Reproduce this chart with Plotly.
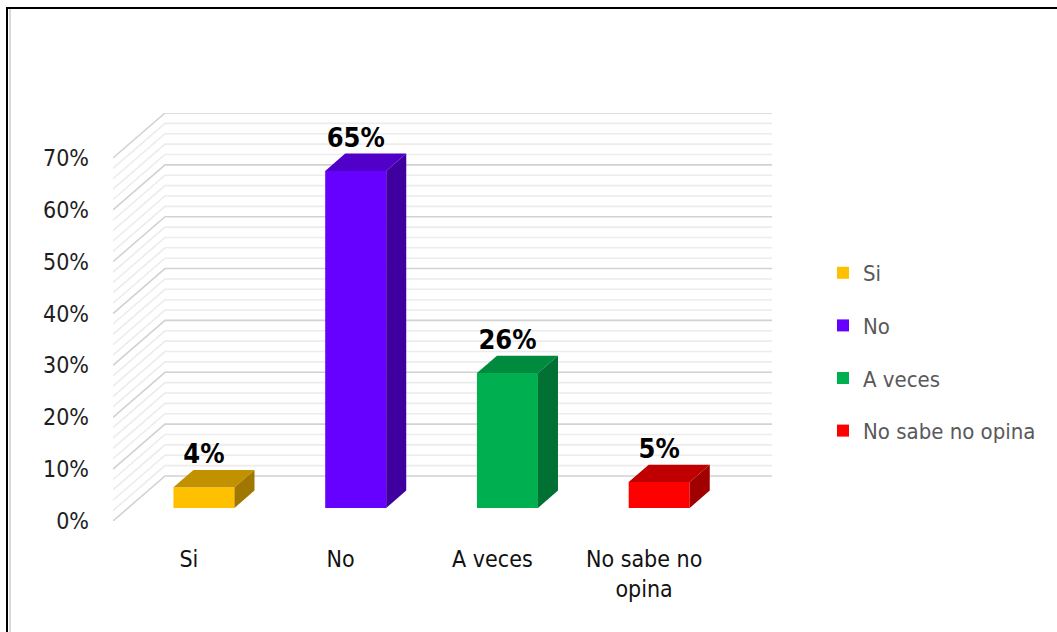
import plotly.graph_objects as go

# Survey answers and their shares (%)
categories = ["Si", "No", "A veces", "No sabe no opina"]
tick_text = ["Si", "No", "A veces", "No sabe no<br>opina"]
values = [4, 65, 26, 5]
y_ticks = [0, 10, 20, 30, 40, 50, 60, 70]

front_colors = ["#FFC000", "#6600FF", "#00B050", "#FF0000"]
top_colors = ["#C29100", "#5000C8", "#008A3E", "#C00000"]
side_colors = ["#A07800", "#4000A0", "#007033", "#A00000"]

FONT = "Liberation Sans Narrow, Arial Narrow, DejaVu Sans Condensed, sans-serif"

# oblique projection of the depth axis (in data units)
DEPTH_X = 0.3427
DEPTH_Y = 8.68
BAR_W = 0.402
BAR_D0 = 0.29   # where the bar front sits inside the floor depth
BAR_DD = 0.385  # bar depth as a fraction of the floor depth
Y_MAX = 70

W, H = 1057, 632
M = dict(l=113, r=285, t=113, b=111)

fig = go.Figure()

# front faces
for i, (c, v) in enumerate(zip(categories, values)):
    xc = i + BAR_D0 * DEPTH_X
    fig.add_trace(go.Bar(
        x=[xc], y=[v], base=[BAR_D0 * DEPTH_Y], width=BAR_W,
        name=c, legendgroup=c,
        marker=dict(color=front_colors[i], line=dict(width=0)),
        hoverinfo="skip",
    ))

# top and side faces
for i, v in enumerate(values):
    xc = i + BAR_D0 * DEPTH_X
    x0, x1 = xc - BAR_W / 2, xc + BAR_W / 2
    b = BAR_D0 * DEPTH_Y
    t = b + v
    dx, dy = BAR_DD * DEPTH_X, BAR_DD * DEPTH_Y
    fig.add_trace(go.Scatter(
        x=[x0, x1, x1 + dx, x0 + dx, x0], y=[t, t, t + dy, t + dy, t],
        fill="toself", fillcolor=top_colors[i], mode="lines",
        line=dict(width=0, color=top_colors[i]), showlegend=False, hoverinfo="skip",
    ))
    fig.add_trace(go.Scatter(
        x=[x1, x1 + dx, x1 + dx, x1, x1], y=[b, b + dy, t + dy, t, b],
        fill="toself", fillcolor=side_colors[i], mode="lines",
        line=dict(width=0, color=side_colors[i]), showlegend=False, hoverinfo="skip",
    ))

# value labels above each bar
fig.add_trace(go.Scatter(
    x=[i + BAR_D0 * DEPTH_X for i in range(len(values))],
    y=[BAR_D0 * DEPTH_Y + v + BAR_DD * DEPTH_Y for v in values],
    text=[f"<b>{v}%</b>" for v in values], mode="text", textposition="top center",
    textfont=dict(family=FONT, size=27, color="#000000"),
    showlegend=False, hoverinfo="skip",
))

# side wall and back wall gridlines (major every 10 %, minor every 2 %)
shapes = []
x_left = -0.5
x_right = len(categories) - 0.5 + DEPTH_X
for g in range(0, Y_MAX + 1, 2):
    major = g % 10 == 0
    shapes.append(dict(
        type="path", xref="x", yref="y", layer="below",
        path=f"M{x_left},{g} L{x_left + DEPTH_X},{g + DEPTH_Y} L{x_right},{g + DEPTH_Y}",
        line=dict(color="#D2D2D2" if major else "#ECECEC", width=1.6),
    ))

# chart outline
pw = W - M["l"] - M["r"]
ph = H - M["t"] - M["b"]
def px(x):
    return (x - M["l"]) / pw
def py(y):
    return (H - M["b"] - y) / ph

shapes.append(dict(type="line", xref="paper", yref="paper", layer="above",
                   x0=px(10), x1=px(10), y0=py(9), y1=py(H + 5),
                   line=dict(color="#DADADA", width=2)))
shapes.append(dict(type="line", xref="paper", yref="paper", layer="above",
                   x0=px(7), x1=px(7), y0=py(7), y1=py(H + 5),
                   line=dict(color="#000000", width=2)))
shapes.append(dict(type="line", xref="paper", yref="paper", layer="above",
                   x0=px(6), x1=px(W + 5), y0=py(8), y1=py(8),
                   line=dict(color="#000000", width=2)))

fig.update_layout(
    width=W, height=H, margin=M,
    paper_bgcolor="white", plot_bgcolor="white",
    barmode="overlay",
    shapes=shapes,
    font=dict(family=FONT, color="#1E1E1E"),
    xaxis=dict(
        range=[x_left, x_right], tickvals=list(range(len(categories))), ticktext=tick_text,
        showgrid=False, zeroline=False, showline=False, ticks="", automargin=False,
        tickfont=dict(family=FONT, size=23, color="#111111"), ticklabelstandoff=22,
        fixedrange=True,
    ),
    yaxis=dict(
        range=[0, Y_MAX + DEPTH_Y], tickvals=y_ticks, ticktext=[f"{v}%" for v in y_ticks],
        showgrid=False, zeroline=False, showline=False, ticks="", automargin=False,
        tickfont=dict(family=FONT, size=23, color="#1E1E1E"), ticklabelstandoff=23,
        fixedrange=True,
    ),
    legend=dict(
        x=px(823), xanchor="left", y=py(252), yanchor="top",
        font=dict(family=FONT, size=22, color="#595959"),
        traceorder="grouped", tracegroupgap=21, bgcolor="rgba(0,0,0,0)",
        itemclick=False, itemdoubleclick=False,
    ),
    showlegend=True,
)

fig.write_html("out.html")
